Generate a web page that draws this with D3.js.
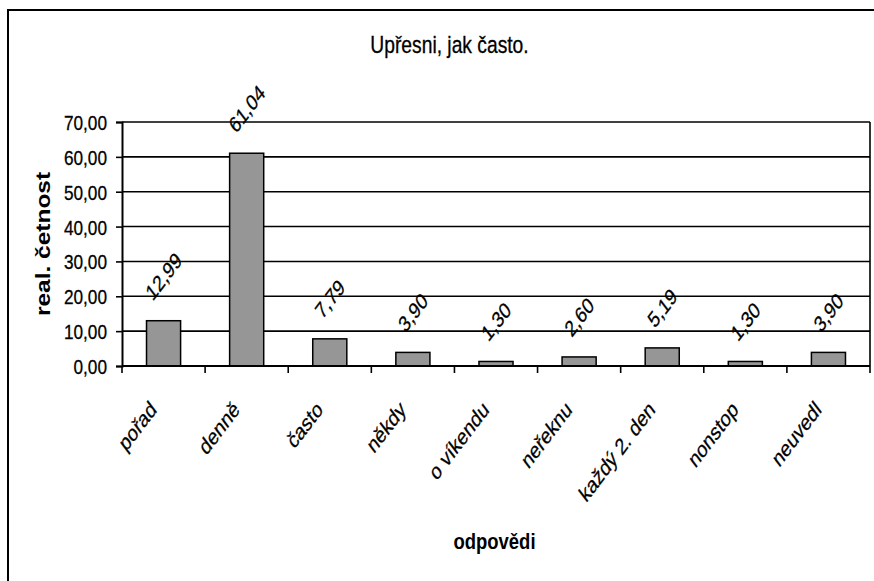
<!DOCTYPE html>
<html>
<head>
<meta charset="utf-8">
<script src="https://cdn.jsdelivr.net/npm/d3@7"></script>
<style>
  html, body { margin: 0; padding: 0; background: #fff; }
  svg { display: block; }
  text { font-family: "Liberation Sans", Arial, sans-serif; fill: #000; }
  text.reg { stroke: #000; stroke-width: 0.3px; }
</style>
</head>
<body>
<svg id="chart" width="874" height="581"></svg>
<script>
const categories = ["pořad", "denně", "často", "někdy", "o víkendu", "neřeknu", "každý 2. den", "nonstop", "neuvedl"];
const values = [12.99, 61.04, 7.79, 3.90, 1.30, 2.60, 5.19, 1.30, 3.90];
const yTicks = [0, 10, 20, 30, 40, 50, 60, 70];
const titleText = "Upřesni, jak často.";
const yTitle = "real. četnost";
const xTitle = "odpovědi";

const SX = 0.82;   // horizontal compression of the original's upright text
const SXR = 0.76;  // compression of the rotated text
const locale = d3.formatLocale({ decimal: ",", thousands: " ", grouping: [3], currency: ["", ""] });
const fmt = locale.format(".2f");

const svg = d3.select("#chart");
const plot = { left: 122, right: 870, top: 122, bottom: 366 };

// outer chart border (extends beyond the window on right and bottom)
svg.append("rect")
  .attr("x", 8).attr("y", 10).attr("width", 890).attr("height", 600)
  .attr("fill", "#fff").attr("stroke", "#000").attr("stroke-width", 2);

const x = d3.scaleBand().domain(categories).range([plot.left, plot.right]).padding(0);
const y = d3.scaleLinear().domain([0, 70]).range([plot.bottom, plot.top]);

// gridlines
svg.append("g").selectAll("line")
  .data(yTicks.filter(d => d > 0))
  .join("line")
  .attr("x1", plot.left).attr("x2", plot.right)
  .attr("y1", d => y(d)).attr("y2", d => y(d))
  .attr("stroke", "#000").attr("stroke-width", 1.6);

// plot area right border
svg.append("line")
  .attr("x1", plot.right).attr("x2", plot.right)
  .attr("y1", plot.top).attr("y2", plot.bottom)
  .attr("stroke", "#000").attr("stroke-width", 1.6);

// bars
const barW = x.bandwidth() * 0.41;
svg.append("g").selectAll("rect")
  .data(values)
  .join("rect")
  .attr("x", (d, i) => x(categories[i]) + x.bandwidth() / 2 - barW / 2)
  .attr("y", d => y(d))
  .attr("width", barW)
  .attr("height", d => y(0) - y(d))
  .attr("fill", "#969696")
  .attr("stroke", "#000")
  .attr("stroke-width", 1.5);

// y axis
const yAxis = svg.append("g")
  .attr("transform", `translate(${plot.left},0)`)
  .call(d3.axisLeft(y).tickValues(yTicks).tickSize(6).tickFormat(fmt));
yAxis.select(".domain").attr("stroke", "#000").attr("stroke-width", 2);
yAxis.selectAll(".tick line").attr("stroke", "#000").attr("stroke-width", 1.6);
yAxis.selectAll(".tick text")
  .attr("class", "reg")
  .attr("x", 0).attr("dy", "0.36em")
  .attr("transform", `translate(-15,0) scale(${SX},1)`)
  .style("font-size", "21px")
  .attr("text-anchor", "end");

// x axis line
svg.append("line")
  .attr("x1", plot.left).attr("x2", plot.right)
  .attr("y1", y(0)).attr("y2", y(0))
  .attr("stroke", "#000").attr("stroke-width", 2);

// x boundary ticks
const bounds = categories.map(c => x(c)).concat([x.range()[1]]);
svg.append("g").selectAll("line")
  .data(bounds)
  .join("line")
  .attr("x1", d => d).attr("x2", d => d)
  .attr("y1", y(0)).attr("y2", y(0) + 7)
  .attr("stroke", "#000").attr("stroke-width", 1.6);

// x category labels
svg.append("g").selectAll("text")
  .data(categories)
  .join("text")
  .attr("class", "reg")
  .attr("text-anchor", "end")
  .attr("transform", d => `translate(${x(d) + x.bandwidth() / 2 - 6},${y(0) + 45}) scale(${SXR},1) rotate(-45)`)
  .style("font-size", "23px")
  .text(d => d);

// data labels
const DLF = 22.5;
const dl = svg.append("g").selectAll("text")
  .data(values)
  .join("text")
  .attr("class", "reg")
  .attr("text-anchor", "middle")
  .attr("dy", "0.36em")
  .style("font-size", DLF + "px")
  .text(d => fmt(d));
dl.each(function (d, i) {
  const L = this.getComputedTextLength();
  const H = (L + 0.716 * DLF) * Math.SQRT1_2;
  const cx = x(categories[i]) + x.bandwidth() / 2;
  const cy = y(d) - 19 - H / 2;
  d3.select(this).attr("transform", `translate(${cx},${cy}) scale(${SXR},1) rotate(-45)`);
});

// title
svg.append("text")
  .attr("class", "reg")
  .attr("text-anchor", "middle")
  .attr("transform", `translate(449.5,53) scale(${SX},1)`)
  .style("font-size", "23.5px")
  .text(titleText);

// y axis title
svg.append("text")
  .attr("text-anchor", "middle")
  .attr("dy", "0.36em")
  .attr("transform", `translate(43,${(plot.top + plot.bottom) / 2}) scale(${SX},1) rotate(-90)`)
  .style("font-size", "24.5px")
  .style("font-weight", "bold")
  .text(yTitle);

// x axis title
svg.append("text")
  .attr("text-anchor", "middle")
  .attr("transform", `translate(494.5,549) scale(0.84,1)`)
  .style("font-size", "22px")
  .style("font-weight", "bold")
  .text(xTitle);
</script>
</body>
</html>
